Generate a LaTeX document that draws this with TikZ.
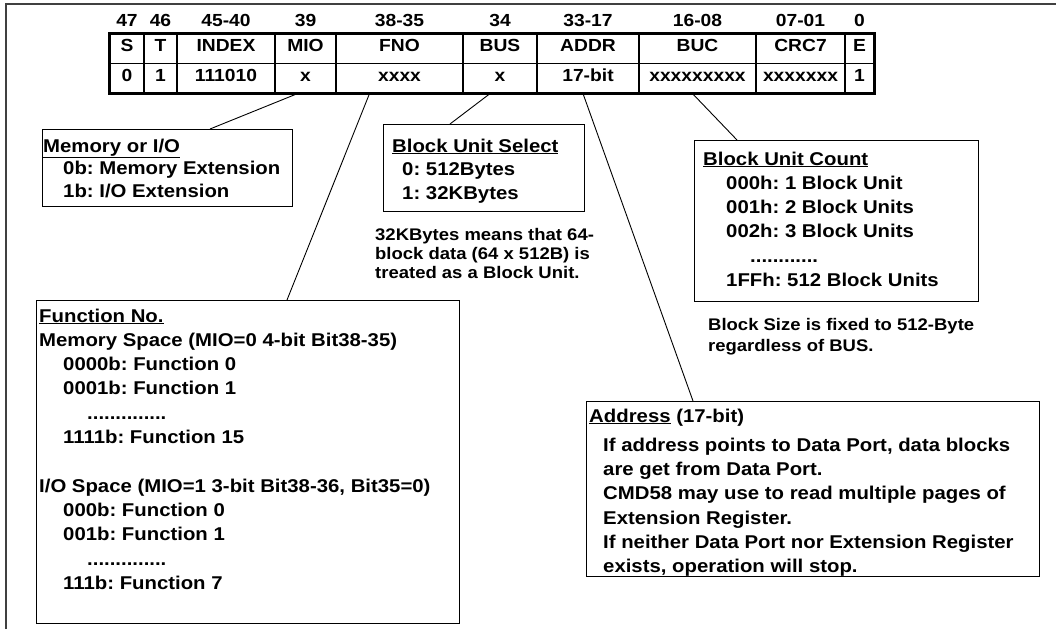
\documentclass[tikz,border=0pt]{standalone}
\usepackage{fontspec}
\setmainfont{Liberation Sans}[FakeStretch=1.1]
\usetikzlibrary{positioning,calc}
\frenchspacing
\newcommand\tabfont{\fontsize{17.5}{21}\selectfont\bfseries}
\newcommand\boxfont{\fontsize{18.5}{24.3}\selectfont\bfseries}
\newcommand\notefont{\fontsize{16.8}{19}\selectfont\bfseries}

\begin{document}
\begin{tikzpicture}[x=1pt, y=-1pt,
  cell/.style={draw, line width=1.2pt, inner sep=0pt, minimum height=29.5pt,
    text height=13pt, text depth=7pt, font=\tabfont},
  bitno/.style={anchor=base, inner sep=0pt, font=\tabfont},
  infobox/.style={draw, line width=1pt, anchor=north west, inner sep=0pt},
  boxtext/.style={anchor=base west, inner sep=0pt, font=\boxfont},
  link/.style={line width=0.9pt}]
  \useasboundingbox (0,0) rectangle (1056,629);

  %% Page frame
  \draw[line width=1.6pt, black!75] (6,629) -- (6,4) -- (1056,4);

  %% Command fields
  \foreach \nm/\xl/\xr/\bits/\fld/\val in {
      s/110/144/47/S/0, t/144/177/46/T/1, index/177/275/45-40/INDEX/111010,
      mio/275/336/39/MIO/x, fno/336/463/38-35/FNO/xxxx, bus/463/537/34/BUS/x,
      addr/537/639/33-17/ADDR/17-bit, buc/639/756/16-08/BUC/xxxxxxxxx,
      crc/756/845/07-01/CRC7/xxxxxxx, e/845/874/0/E/1} {%
    \node[bitno] (\nm-b) at ({(\xl+\xr)/2}, 27) {\bits};
    \node[cell, minimum width={(\xr-\xl)*1pt}] (\nm-f) at ({(\xl+\xr)/2}, 48.75) {\fld};
    \node[cell, minimum width={(\xr-\xl)*1pt}] (\nm-v) at ({(\xl+\xr)/2}, 78.25) {\val};
  }
  \draw[line width=2.6pt] (s-f.north west) rectangle (e-v.south east);

  %% Memory or I/O
  \node[infobox, minimum width=250pt, minimum height=77pt] (memory) at (42,129) {};
  \node[boxtext, font=\fontsize{18.5}{22.5}\selectfont\bfseries] (memory-t) at (43,152)
    {\begin{tabular}[t]{@{}l@{}}
      \underline{Memory or I/O}\\
      \hspace*{20pt}0b: Memory Extension\\
      \hspace*{20pt}1b: I/O Extension
    \end{tabular}};

  %% Block Unit Select
  \node[infobox, minimum width=201pt, minimum height=87pt] (blocksel) at (383,124) {};
  \node[boxtext, font=\fontsize{18.5}{23.5}\selectfont\bfseries] (blocksel-t) at (392,152)
    {\begin{tabular}[t]{@{}l@{}}
      \underline{Block Unit Select}\\
      \hspace*{10pt}0: 512Bytes\\
      \hspace*{10pt}1: 32KBytes
    \end{tabular}};
  \node[boxtext, font=\notefont] (blocksel-n) at (375,240)
    {\begin{tabular}[t]{@{}l@{}}
      32KBytes means that 64-\\
      block data (64 x 512B) is\\
      treated as a Block Unit.
    \end{tabular}};

  %% Block Unit Count
  \node[infobox, minimum width=284pt, minimum height=161pt] (count) at (694,140) {};
  \node[boxtext] (count-t) at (703,165)
    {\begin{tabular}[t]{@{}l@{}}
      \underline{Block Unit Count}\\
      \hspace*{23pt}000h: 1 Block Unit\\
      \hspace*{23pt}001h: 2 Block Units\\
      \hspace*{23pt}002h: 3 Block Units\\
      \hspace*{47pt}............\\
      \hspace*{23pt}1FFh: 512 Block Units
    \end{tabular}};
  \node[boxtext, font=\fontsize{16.8}{21.5}\selectfont\bfseries] (count-n) at (708,330)
    {\begin{tabular}[t]{@{}l@{}}
      Block Size is fixed to 512-Byte\\
      regardless of BUS.
    \end{tabular}};

  %% Function No.
  \node[infobox, minimum width=423pt, minimum height=323pt] (function) at (36,300) {};
  \node[boxtext] (function-t) at (39,322)
    {\begin{tabular}[t]{@{}l@{}}
      \underline{Function No.}\\
      Memory Space (MIO=0 4-bit Bit38-35)\\
      \hspace*{24pt}0000b: Function 0\\
      \hspace*{24pt}0001b: Function 1\\
      \hspace*{48pt}..............\\
      \hspace*{24pt}1111b: Function 15\\
      \\
      I/O Space (MIO=1 3-bit Bit38-36, Bit35=0)\\
      \hspace*{24pt}000b: Function 0\\
      \hspace*{24pt}001b: Function 1\\
      \hspace*{48pt}..............\\
      \hspace*{24pt}111b: Function 7
    \end{tabular}};

  %% Address
  \node[infobox, minimum width=453pt, minimum height=175pt] (address) at (586,401) {};
  \node[boxtext] (address-t) at (589,422)
    {\begin{tabular}[t]{@{}l@{}}
      \underline{Address} (17-bit)\\[5pt]
      \hspace*{14pt}If address points to Data Port, data blocks\\
      \hspace*{14pt}are get from Data Port.\\
      \hspace*{14pt}CMD58 may use to read multiple pages of\\
      \hspace*{14pt}Extension Register.\\
      \hspace*{14pt}If neither Data Port nor Extension Register\\
      \hspace*{14pt}exists, operation will stop.
    \end{tabular}};

  %% Field to description links
  \draw[link] ([xshift=-8pt]mio-v.south) -- ([xshift=168pt]memory.north west);
  \draw[link] ([xshift=-30pt]fno-v.south) -- ([xshift=251pt]function.north west);
  \draw[link] ([xshift=-10pt]bus-v.south) -- ([xshift=67pt]blocksel.north west);
  \draw[link] ([xshift=-5pt]addr-v.south) -- ([xshift=107pt]address.north west);
  \draw[link] ([xshift=-5pt]buc-v.south) -- ([xshift=43pt]count.north west);
\end{tikzpicture}
\end{document}
